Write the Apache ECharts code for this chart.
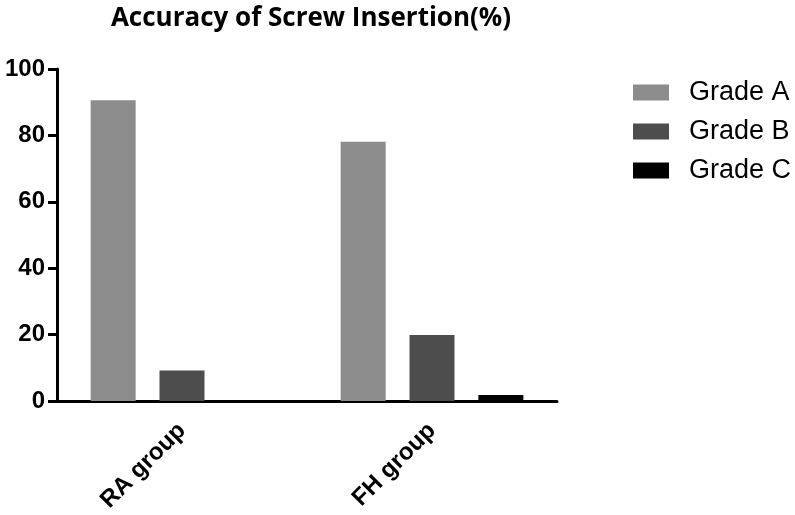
<!DOCTYPE html>
<html><head><meta charset="utf-8">
<script src="https://cdn.jsdelivr.net/npm/echarts@6/dist/echarts.min.js"></script>
<style>html,body{margin:0;padding:0;background:#fff}#c{width:795px;height:515px}</style>
</head><body><div id="c"></div>
<script>
const categories = ['RA group', 'FH group'];
const seriesNames = ['Grade A', 'Grade B', 'Grade C'];
const gradeA = [90.6, 78.1];
const gradeB = [9.2, 19.9];
const gradeC = [0, 1.8];
const yTicks = [0, 20, 40, 60, 80, 100];
const colors = ['#8c8c8c', '#4d4d4d', '#000000'];

const chart = echarts.init(document.getElementById('c'), null, {renderer: 'canvas'});
const values = [gradeA, gradeB, gradeC];
chart.setOption({
  animation: false,
  title: {
    text: 'Accuracy of Screw Insertion(%)',
    left: 306, top: 1, textAlign: 'center',
    textStyle: {fontFamily: 'Open Sans', fontWeight: 'bold', fontSize: 26, color: '#000'}
  },
  legend: {
    orient: 'vertical', left: 628, top: 74,
    itemWidth: 36, itemHeight: 16, itemGap: 12,
    icon: 'rect',
    data: seriesNames,
    textStyle: {fontFamily: 'Liberation Sans', fontSize: 27, color: '#000', padding: [0, 0, 0, 15]}
  },
  grid: {left: 57, right: 238, top: 69, bottom: 114, containLabel: false},
  xAxis: {
    type: 'category', data: categories,
    axisLine: {lineStyle: {color: '#000', width: 3}},
    axisTick: {alignWithLabel: true, length: 9, lineStyle: {color: '#000', width: 3}},
    axisLabel: {rotate: 45, margin: 26, fontFamily: 'Liberation Sans', fontWeight: 'bold', fontSize: 24, color: '#000'}
  },
  yAxis: {
    type: 'value', min: yTicks[0], max: yTicks[yTicks.length - 1], interval: 20,
    splitLine: {show: false},
    axisLine: {show: true, lineStyle: {color: '#000', width: 3}},
    axisTick: {show: true, length: 9, lineStyle: {color: '#000', width: 3}},
    axisLabel: {margin: 12, fontFamily: 'Liberation Sans', fontWeight: 'bold', fontSize: 24, color: '#000'}
  },
  series: seriesNames.map((n, i) => ({
    name: n, type: 'bar', data: values[i],
    barWidth: 45, barGap: '53%',
    itemStyle: {color: colors[i]}
  }))
});
</script></body></html>
